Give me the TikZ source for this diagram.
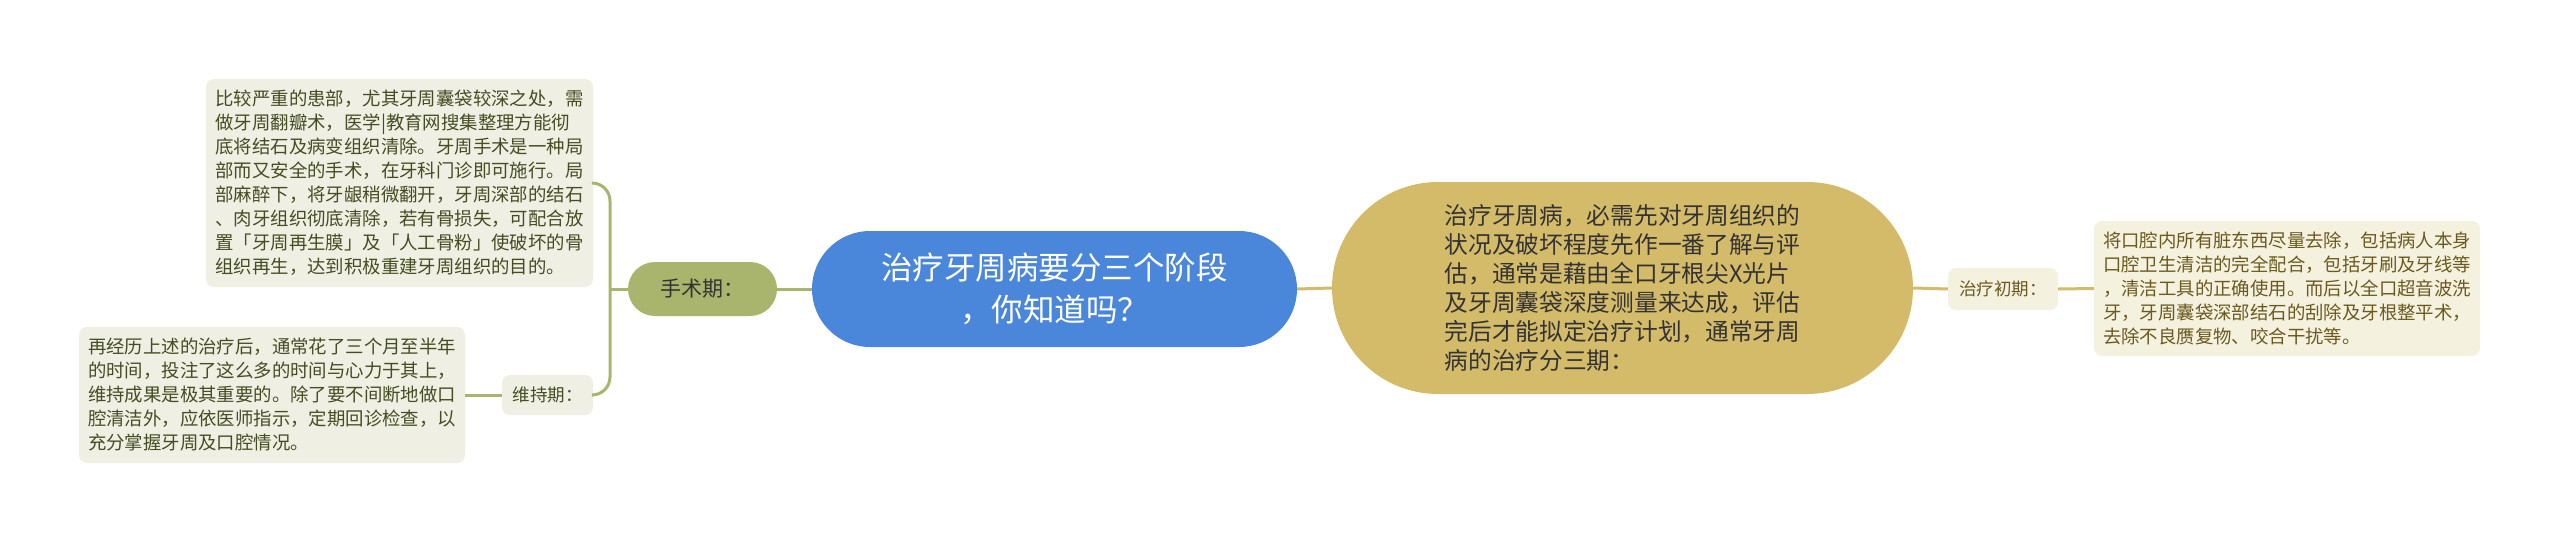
\documentclass[tikz,border=0pt]{standalone}
\usepackage{fontspec}
\setmainfont{Noto Sans CJK SC}
\definecolor{mapblue}{HTML}{4A86D9}
\definecolor{mapolive}{HTML}{A9B46C}
\definecolor{maptan}{HTML}{D3BB6A}
\definecolor{leftpaper}{HTML}{EFEFE3}
\definecolor{rightpaper}{HTML}{F5F1DF}
\definecolor{lefttext}{HTML}{454D22}
\definecolor{righttext}{HTML}{6A5A1E}
\definecolor{darktext}{HTML}{333333}

\tikzset{
  leaf/.style={rounded corners=8pt, inner xsep=9pt, inner ysep=0pt, align=left,
    font=\fontsize{18.4}{24}\selectfont},
  leftleaf/.style={leaf, fill=leftpaper, text=lefttext},
  rightleaf/.style={leaf, fill=rightpaper, text=righttext},
  tag/.style={rounded corners=8pt, font=\fontsize{17.5}{21}\selectfont},
  leftlink/.style={draw=mapolive, line width=3pt},
  rightlink/.style={draw=maptan, line width=3pt}
}

\begin{document}
\begin{tikzpicture}[x=1pt, y=-1pt]
    \fill [white] (0,0) rectangle (2560,543);
    \useasboundingbox (0,0) rectangle (2560,543);

    % left side
    \node[leftleaf, minimum width=387pt, minimum height=208pt] (shoushutext) at (399.5,183)
      {比较严重的患部，尤其牙周囊袋较深之处，需\\做牙周翻瓣术，医学|教育网搜集整理方能彻\\底将结石及病变组织清除。牙周手术是一种局\\部而又安全的手术，在牙科门诊即可施行。局\\部麻醉下，将牙龈稍微翻开，牙周深部的结石\\、肉牙组织彻底清除，若有骨损失，可配合放\\置「牙周再生膜」及「人工骨粉」使破坏的骨\\组织再生，达到积极重建牙周组织的目的。};
    \node[leftleaf, minimum width=386pt, minimum height=136pt] (weichitext) at (272,395)
      {再经历上述的治疗后，通常花了三个月至半年\\的时间，投注了这么多的时间与心力于其上，\\维持成果是极其重要的。除了要不间断地做口\\腔清洁外，应依医师指示，定期回诊检查，以\\充分掌握牙周及口腔情况。};
    \node[tag, fill=leftpaper, text=lefttext, minimum width=91pt, minimum height=40pt] (weichi) at (547.5,395) {维持期：};
    \node[fill=mapolive, text=darktext, rounded corners=27pt, minimum width=149pt, minimum height=54pt,
      font=\fontsize{21}{24}\selectfont] (shoushu) at (702.5,289) {手术期：};

    % centre
    \node[fill=mapblue, text=white, rounded corners=58pt, minimum width=485pt, minimum height=116pt,
      align=center, font=\fontsize{31.5}{41.7}\selectfont] (title) at (1054.5,289)
      {治疗牙周病要分三个阶段\\，你知道吗？};

    % right side
    \node[fill=maptan, text=darktext, rounded corners=106pt, minimum width=581pt, minimum height=212pt,
      align=left, font=\fontsize{23.7}{29}\selectfont] (intro) at (1622.5,288)
      {治疗牙周病，必需先对牙周组织的\\状况及破坏程度先作一番了解与评\\估，通常是藉由全口牙根尖X光片\\及牙周囊袋深度测量来达成，评估\\完后才能拟定治疗计划，通常牙周\\病的治疗分三期：};
    \node[tag, fill=rightpaper, text=righttext, minimum width=110pt, minimum height=42pt] (chuqi) at (2003,289) {治疗初期：};
    \node[rightleaf, minimum width=386pt, minimum height=135pt] (chuqitext) at (2287,288.5)
      {将口腔内所有脏东西尽量去除，包括病人本身\\口腔卫生清洁的完全配合，包括牙刷及牙线等\\，清洁工具的正确使用。而后以全口超音波洗\\牙，牙周囊袋深部结石的刮除及牙根整平术，\\去除不良赝复物、咬合干扰等。};

    % links
    \coordinate (spine) at (610,289);
    \draw[leftlink] (title.west) -- (shoushu.east);
    \draw[leftlink] (shoushu.west) -- (spine);
    \draw[leftlink, rounded corners=18pt] (shoushutext.east) -| (spine) |- (weichi.east);
    \draw[leftlink] (weichi.west) -- (weichitext.east);
    \draw[rightlink] (title.east) -- (intro.west);
    \draw[rightlink] (intro.east) -- (chuqi.west);
    \draw[rightlink] (chuqi.east) -- (chuqitext.west);
  \end{tikzpicture}
\end{document}
